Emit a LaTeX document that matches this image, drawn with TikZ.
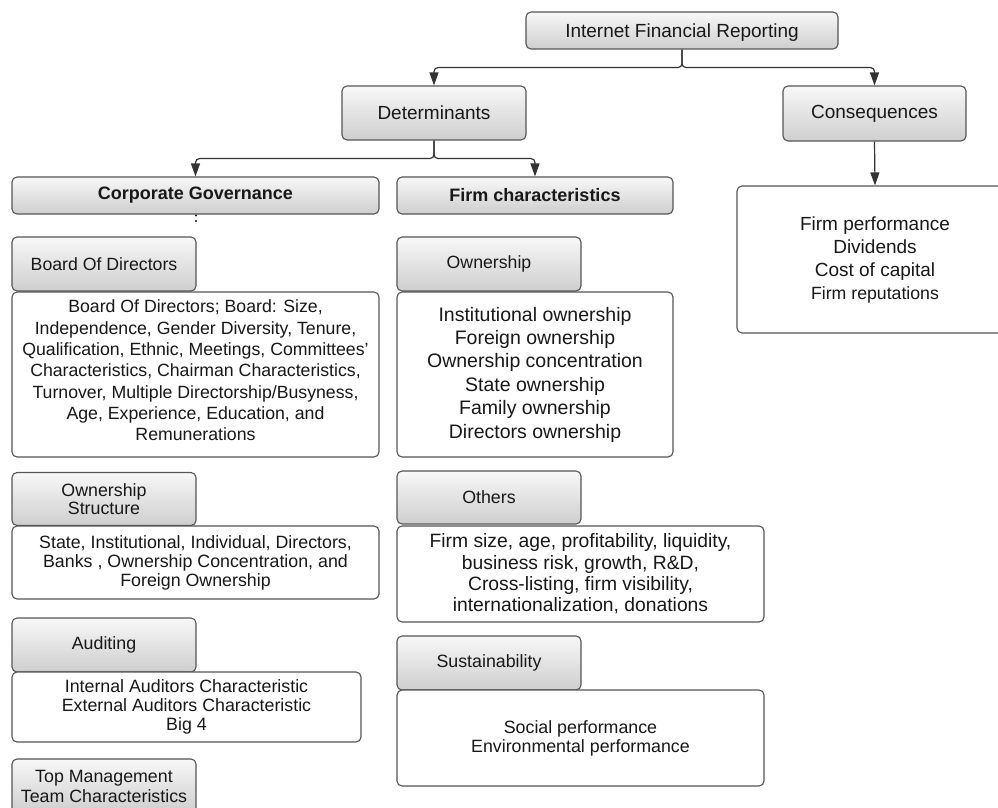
\documentclass[tikz,border=0pt]{standalone}
\usepackage{fontspec}
\setmainfont{Liberation Sans}
\usetikzlibrary{arrows.meta}
\definecolor{bordc}{HTML}{555555}
\definecolor{txtc}{HTML}{181818}
\definecolor{arrc}{HTML}{333333}
\newcommand\myfs[2]{\fontsize{#1}{#2}\selectfont}
\tikzset{
  base/.style={draw=bordc, line width=1.1pt, rounded corners=5pt, inner sep=0pt, align=center, text=txtc},
  hdr/.style={base, top color=gray!6, bottom color=gray!38},
  cnt/.style={base, fill=white},
  txt/.style={inner sep=0pt, align=center, text=txtc},
  conn/.style={draw=arrc, line width=1.2pt, -{Triangle[length=13pt,width=9pt]}, rounded corners=4pt},
}
\begin{document}
\begin{tikzpicture}[x=1pt,y=-1pt]
\useasboundingbox (0,0) rectangle (998,808);

% top level
\node[hdr, minimum width=312pt, minimum height=37pt, text depth=0pt, font=\myfs{19}{23}] (ifr) at (682,30.5) {Internet Financial Reporting};
\node[hdr, minimum width=184pt, minimum height=54pt, font=\myfs{19}{23}] (det) at (434,113) {Determinants};
\node[hdr, minimum width=183pt, minimum height=55pt, font=\myfs{19}{23}] (cons) at (874.5,113.5) {Consequences};
\node[cnt, minimum width=276pt, minimum height=147pt, font=\myfs{19}{23}] (consc) at (875,259.5)
  {Firm performance\\Dividends\\Cost of capital\\{\myfs{17.7}{23}Firm reputations}};

% second level
\node[hdr, minimum width=367pt, minimum height=37pt, font=\bfseries\myfs{18}{22}] (cg) at (195.5,195.5) {Corporate Governance};
\node[hdr, minimum width=276pt, minimum height=37pt, font=\bfseries\myfs{18}{22}] (fc) at (535,195.5) {Firm characteristics};
\fill[txtc] (196,215.5) circle (1.2) (196,221) circle (1.2);

% corporate governance column
\node[hdr, minimum width=184pt, minimum height=54pt, font=\myfs{17.7}{21}] (bod) at (104,264) {Board Of Directors};
\node[cnt, minimum width=367pt, minimum height=165pt] (bodc) at (195.5,374.5) {};
\node[txt, font=\myfs{17.7}{21.3}] (bodt) at (195.5,370.5)
  {Board Of Directors; Board: Size,\\Independence, Gender Diversity, Tenure,\\Qualification, Ethnic, Meetings, Committees'\\Characteristics, Chairman Characteristics,\\Turnover, Multiple Directorship/Busyness,\\Age, Experience, Education, and\\Remunerations};

\node[hdr, minimum width=184pt, minimum height=53pt, font=\myfs{17.8}{18.5}] (osh) at (104,499) {Ownership\\Structure};
\node[cnt, minimum width=367pt, minimum height=73pt, font=\myfs{17.8}{19}] (osc) at (195.5,562.5)
  {State, Institutional, Individual, Directors,\\Banks , Ownership Concentration, and\\Foreign Ownership};

\node[hdr, minimum width=184pt, minimum height=54pt, font=\myfs{17.8}{21}] (aud) at (104,645) {Auditing};
\node[cnt, minimum width=349pt, minimum height=70pt, font=\myfs{17.8}{19}] (audc) at (186.5,707)
  {Internal Auditors Characteristic\\External Auditors Characteristic\\Big 4};

\node[hdr, minimum width=184pt, minimum height=54pt, font=\myfs{17.8}{20}] (tmt) at (104,786) {Top Management\\Team Characteristics};

% firm characteristics column
\node[hdr, minimum width=184pt, minimum height=54pt, font=\myfs{17.7}{21}] (own) at (489,264) {Ownership};
\node[cnt, minimum width=276pt, minimum height=165pt, font=\myfs{19.5}{23.4}] (ownc) at (535,374.5)
  {Institutional ownership\\Foreign ownership\\Ownership concentration\\State ownership\\Family ownership\\Directors ownership};

\node[hdr, minimum width=184pt, minimum height=53pt, font=\myfs{17.8}{21}] (oth) at (489,497.5) {Others};
\node[cnt, minimum width=367pt, minimum height=96pt, font=\myfs{19.3}{21.3}] (othc) at (580.5,574)
  {Firm size, age, profitability, liquidity,\\business risk, growth, R\&D,\\Cross-listing, firm visibility,\\internationalization, donations};

\node[hdr, minimum width=184pt, minimum height=54pt, font=\myfs{17.8}{21}] (sus) at (489,663) {Sustainability};
\node[cnt, minimum width=367pt, minimum height=96pt, font=\myfs{17.8}{19}] (susc) at (580.5,738)
  {Social performance\\Environmental performance};

% connectors
\draw[conn] (ifr.south) -- ++(0,18) -| (det.north);
\draw[conn] (ifr.south) -- ++(0,18) -| (cons.north);
\draw[conn] (det.south) -- ++(0,18) -| (cg.north);
\draw[conn] (det.south) -- ++(0,18) -| (fc.north);
\draw[conn] (cons.south) -- (consc.north);
\end{tikzpicture}
\end{document}
